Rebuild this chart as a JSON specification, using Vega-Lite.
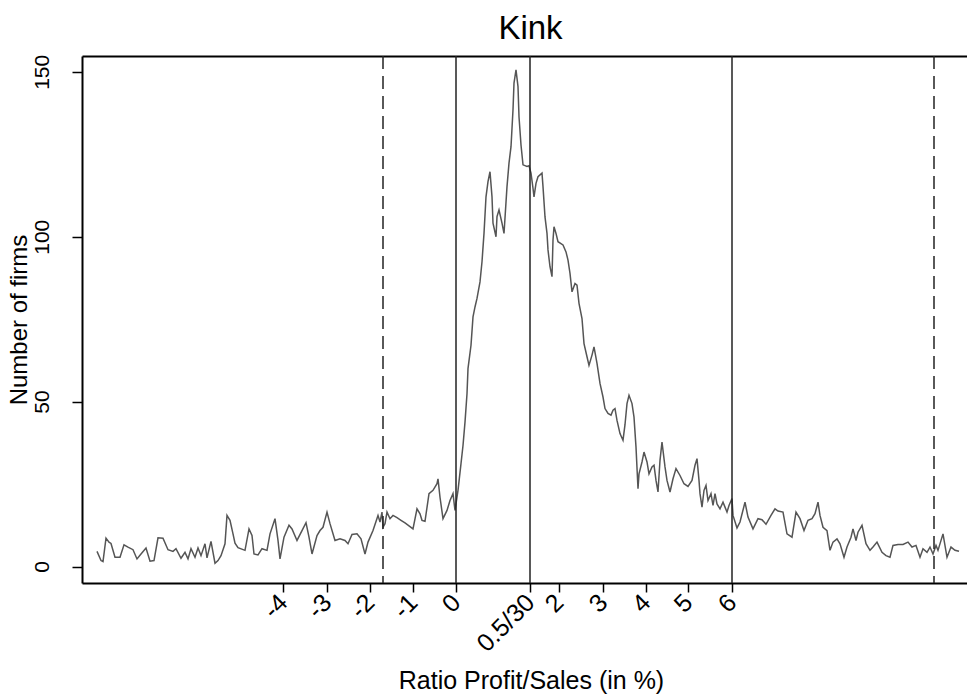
{
  "$schema": "https://vega.github.io/schema/vega-lite/v6.json",
  "autosize": "none",
  "width": 885,
  "height": 527,
  "padding": {"left": 82, "top": 56, "right": 0, "bottom": 112},
  "background": "white",
  "config": {
    "font": "Liberation Sans",
    "view": {"stroke": null},
    "axis": {"grid": false, "domain": true, "domainColor": "#000000", "domainWidth": 2, "tickColor": "#000000", "tickWidth": 1.5, "labelColor": "#000000", "titleColor": "#000000", "labelFont": "Liberation Sans", "titleFont": "Liberation Sans", "titleFontWeight": "normal"}
  },
  "resolve": {"axis": {"x": "independent"}},
  "title": {"text": "Kink", "fontSize": 33, "font": "Liberation Sans", "fontWeight": "normal", "color": "#000000", "offset": 8, "dx": 6},
  "datasets": {
    "counts": [
      {"bin": -359, "firms": 4.6}, {"bin": -355, "firms": 1.8}, {"bin": -353, "firms": 1.5}, {"bin": -350, "firms": 8.6},
      {"bin": -347, "firms": 7.4}, {"bin": -345, "firms": 7.0}, {"bin": -341, "firms": 2.8}, {"bin": -336, "firms": 2.8},
      {"bin": -332, "firms": 6.6}, {"bin": -328, "firms": 5.9}, {"bin": -323, "firms": 5.1}, {"bin": -319, "firms": 2.3},
      {"bin": -315, "firms": 3.8}, {"bin": -310, "firms": 5.6}, {"bin": -306, "firms": 1.6}, {"bin": -302, "firms": 1.8},
      {"bin": -298, "firms": 8.7}, {"bin": -293, "firms": 8.6}, {"bin": -288, "firms": 5.1}, {"bin": -283, "firms": 4.6},
      {"bin": -280, "firms": 5.4}, {"bin": -275, "firms": 2.5}, {"bin": -271, "firms": 4.3}, {"bin": -268, "firms": 2.3},
      {"bin": -265, "firms": 5.4}, {"bin": -261, "firms": 2.8}, {"bin": -258, "firms": 5.6}, {"bin": -255, "firms": 3.3},
      {"bin": -251, "firms": 6.9}, {"bin": -249, "firms": 2.6}, {"bin": -245, "firms": 7.6}, {"bin": -241, "firms": 1.0},
      {"bin": -238, "firms": 1.8}, {"bin": -235, "firms": 3.3}, {"bin": -231, "firms": 6.9}, {"bin": -229, "firms": 15.5},
      {"bin": -226, "firms": 14.0}, {"bin": -223, "firms": 9.9}, {"bin": -221, "firms": 7.1}, {"bin": -218, "firms": 5.7},
      {"bin": -211, "firms": 4.9}, {"bin": -207, "firms": 11.4}, {"bin": -204, "firms": 9.4}, {"bin": -202, "firms": 3.8},
      {"bin": -198, "firms": 3.5}, {"bin": -194, "firms": 5.4}, {"bin": -189, "firms": 4.9}, {"bin": -186, "firms": 9.9},
      {"bin": -181, "firms": 14.5}, {"bin": -178, "firms": 7.9}, {"bin": -176, "firms": 2.3}, {"bin": -172, "firms": 8.9},
      {"bin": -167, "firms": 12.5}, {"bin": -164, "firms": 11.4}, {"bin": -159, "firms": 7.9}, {"bin": -154, "firms": 10.9},
      {"bin": -150, "firms": 13.3}, {"bin": -147, "firms": 8.9}, {"bin": -144, "firms": 3.8}, {"bin": -139, "firms": 9.4},
      {"bin": -136, "firms": 10.9}, {"bin": -133, "firms": 11.9}, {"bin": -129, "firms": 16.5}, {"bin": -126, "firms": 13.0},
      {"bin": -121, "firms": 7.9}, {"bin": -116, "firms": 8.4}, {"bin": -111, "firms": 7.9}, {"bin": -108, "firms": 6.9},
      {"bin": -104, "firms": 9.7}, {"bin": -99, "firms": 9.9}, {"bin": -95, "firms": 8.4}, {"bin": -91, "firms": 3.8},
      {"bin": -88, "firms": 7.4}, {"bin": -83, "firms": 10.9}, {"bin": -78, "firms": 15.5}, {"bin": -76, "firms": 13.5},
      {"bin": -74, "firms": 16.5}, {"bin": -73, "firms": 11.9}, {"bin": -71, "firms": 13.0}, {"bin": -69, "firms": 16.5},
      {"bin": -66, "firms": 14.5}, {"bin": -63, "firms": 15.5}, {"bin": -59, "firms": 14.8}, {"bin": -55, "firms": 14.0},
      {"bin": -51, "firms": 13.2}, {"bin": -46, "firms": 12.1}, {"bin": -43, "firms": 11.4}, {"bin": -39, "firms": 17.5},
      {"bin": -36, "firms": 16.0}, {"bin": -34, "firms": 14.0}, {"bin": -31, "firms": 13.7}, {"bin": -27, "firms": 22.1},
      {"bin": -23, "firms": 23.1}, {"bin": -19, "firms": 25.1}, {"bin": -18, "firms": 26.6}, {"bin": -16, "firms": 21.0},
      {"bin": -13, "firms": 14.5}, {"bin": -9, "firms": 17.0}, {"bin": -6, "firms": 20.0}, {"bin": -3, "firms": 22.1},
      {"bin": -1, "firms": 17.0}, {"bin": 2, "firms": 23.1}, {"bin": 5, "firms": 31.2}, {"bin": 7, "firms": 36.7},
      {"bin": 9, "firms": 43.8}, {"bin": 11, "firms": 52.4}, {"bin": 12, "firms": 60.0}, {"bin": 15, "firms": 67.1},
      {"bin": 17, "firms": 75.7}, {"bin": 19, "firms": 78.7}, {"bin": 21, "firms": 81.3}, {"bin": 24, "firms": 86.3},
      {"bin": 26, "firms": 92.4}, {"bin": 28, "firms": 101.0}, {"bin": 30, "firms": 112.1}, {"bin": 32, "firms": 116.7},
      {"bin": 34, "firms": 119.7}, {"bin": 36, "firms": 112.1}, {"bin": 37, "firms": 104.1}, {"bin": 40, "firms": 100.0},
      {"bin": 41, "firms": 106.1}, {"bin": 43, "firms": 108.1}, {"bin": 46, "firms": 104.1}, {"bin": 48, "firms": 101.0},
      {"bin": 51, "firms": 115.2}, {"bin": 53, "firms": 122.3}, {"bin": 55, "firms": 127.3}, {"bin": 57, "firms": 138.5},
      {"bin": 58, "firms": 146.6}, {"bin": 60, "firms": 150.6}, {"bin": 62, "firms": 145.5}, {"bin": 63, "firms": 136.4},
      {"bin": 65, "firms": 127.8}, {"bin": 67, "firms": 121.8}, {"bin": 71, "firms": 121.3}, {"bin": 73, "firms": 121.5},
      {"bin": 75, "firms": 119.3}, {"bin": 77, "firms": 114.7}, {"bin": 78, "firms": 112.1}, {"bin": 80, "firms": 116.2},
      {"bin": 82, "firms": 118.2}, {"bin": 86, "firms": 119.3}, {"bin": 87, "firms": 115.2}, {"bin": 89, "firms": 106.0},
      {"bin": 91, "firms": 101.0}, {"bin": 92, "firms": 96.0}, {"bin": 94, "firms": 90.9}, {"bin": 96, "firms": 87.9},
      {"bin": 97, "firms": 99.0}, {"bin": 98, "firms": 103.0}, {"bin": 100, "firms": 101.0}, {"bin": 102, "firms": 98.5},
      {"bin": 107, "firms": 97.5}, {"bin": 110, "firms": 95.4}, {"bin": 112, "firms": 92.9}, {"bin": 114, "firms": 88.9},
      {"bin": 116, "firms": 83.3}, {"bin": 119, "firms": 85.8}, {"bin": 121, "firms": 85.3}, {"bin": 123, "firms": 79.8},
      {"bin": 126, "firms": 75.2}, {"bin": 128, "firms": 67.6}, {"bin": 131, "firms": 63.6}, {"bin": 133, "firms": 61.0},
      {"bin": 136, "firms": 64.1}, {"bin": 138, "firms": 66.6}, {"bin": 141, "firms": 61.6}, {"bin": 144, "firms": 55.5},
      {"bin": 147, "firms": 51.4}, {"bin": 149, "firms": 47.9}, {"bin": 152, "firms": 46.4}, {"bin": 155, "firms": 45.9},
      {"bin": 157, "firms": 47.4}, {"bin": 159, "firms": 47.9}, {"bin": 161, "firms": 44.3}, {"bin": 164, "firms": 40.3},
      {"bin": 167, "firms": 38.3}, {"bin": 169, "firms": 43.0}, {"bin": 171, "firms": 49.4}, {"bin": 173, "firms": 51.9},
      {"bin": 176, "firms": 49.4}, {"bin": 178, "firms": 45.3}, {"bin": 180, "firms": 36.2}, {"bin": 182, "firms": 23.6},
      {"bin": 183, "firms": 28.1}, {"bin": 186, "firms": 31.7}, {"bin": 188, "firms": 34.7}, {"bin": 191, "firms": 31.7},
      {"bin": 193, "firms": 28.1}, {"bin": 196, "firms": 30.2}, {"bin": 198, "firms": 30.7}, {"bin": 200, "firms": 26.1},
      {"bin": 202, "firms": 22.6}, {"bin": 204, "firms": 32.2}, {"bin": 206, "firms": 37.7}, {"bin": 207, "firms": 35.2},
      {"bin": 209, "firms": 30.2}, {"bin": 211, "firms": 26.1}, {"bin": 214, "firms": 22.6}, {"bin": 217, "firms": 26.6},
      {"bin": 220, "firms": 29.7}, {"bin": 224, "firms": 27.6}, {"bin": 228, "firms": 25.1}, {"bin": 232, "firms": 24.3},
      {"bin": 236, "firms": 26.1}, {"bin": 239, "firms": 30.7}, {"bin": 241, "firms": 32.7}, {"bin": 243, "firms": 26.1},
      {"bin": 244, "firms": 22.1}, {"bin": 246, "firms": 18.0}, {"bin": 248, "firms": 23.1}, {"bin": 250, "firms": 24.6},
      {"bin": 252, "firms": 20.0}, {"bin": 255, "firms": 22.1}, {"bin": 257, "firms": 18.5}, {"bin": 259, "firms": 22.1},
      {"bin": 261, "firms": 19.0}, {"bin": 264, "firms": 17.5}, {"bin": 267, "firms": 19.5}, {"bin": 269, "firms": 18.0},
      {"bin": 271, "firms": 16.5}, {"bin": 273, "firms": 18.5}, {"bin": 276, "firms": 20.6}, {"bin": 277, "firms": 15.5},
      {"bin": 281, "firms": 11.7}, {"bin": 284, "firms": 13.5}, {"bin": 289, "firms": 19.5}, {"bin": 292, "firms": 15.0},
      {"bin": 297, "firms": 11.4}, {"bin": 302, "firms": 14.5}, {"bin": 306, "firms": 14.2}, {"bin": 310, "firms": 12.8},
      {"bin": 315, "firms": 15.5}, {"bin": 319, "firms": 17.5}, {"bin": 322, "firms": 16.8}, {"bin": 327, "firms": 16.5},
      {"bin": 331, "firms": 9.9}, {"bin": 336, "firms": 8.9}, {"bin": 340, "firms": 16.5}, {"bin": 344, "firms": 14.5},
      {"bin": 348, "firms": 10.9}, {"bin": 352, "firms": 14.0}, {"bin": 356, "firms": 14.5}, {"bin": 359, "firms": 16.0},
      {"bin": 362, "firms": 19.5}, {"bin": 364, "firms": 15.5}, {"bin": 367, "firms": 11.9}, {"bin": 371, "firms": 10.9},
      {"bin": 374, "firms": 4.9}, {"bin": 377, "firms": 7.4}, {"bin": 381, "firms": 8.4}, {"bin": 384, "firms": 6.9},
      {"bin": 388, "firms": 2.8}, {"bin": 391, "firms": 5.9}, {"bin": 395, "firms": 8.9}, {"bin": 397, "firms": 11.4},
      {"bin": 400, "firms": 7.9}, {"bin": 402, "firms": 10.4}, {"bin": 406, "firms": 12.5}, {"bin": 410, "firms": 6.9},
      {"bin": 414, "firms": 4.9}, {"bin": 417, "firms": 5.9}, {"bin": 421, "firms": 7.4}, {"bin": 426, "firms": 4.3},
      {"bin": 430, "firms": 3.3}, {"bin": 434, "firms": 2.8}, {"bin": 437, "firms": 6.4}, {"bin": 442, "firms": 6.7},
      {"bin": 447, "firms": 6.7}, {"bin": 452, "firms": 7.4}, {"bin": 456, "firms": 5.9}, {"bin": 460, "firms": 6.4},
      {"bin": 464, "firms": 2.8}, {"bin": 467, "firms": 5.4}, {"bin": 471, "firms": 4.3}, {"bin": 474, "firms": 5.9},
      {"bin": 477, "firms": 3.8}, {"bin": 480, "firms": 6.4}, {"bin": 482, "firms": 4.9}, {"bin": 487, "firms": 9.9},
      {"bin": 491, "firms": 2.8}, {"bin": 495, "firms": 5.9}, {"bin": 499, "firms": 4.9}, {"bin": 503, "firms": 4.6}
    ],
    "kinks": [{"bin": 0}, {"bin": 74}, {"bin": 276}],
    "bounds": [{"bin": -73}, {"bin": 478}]
  },
  "layer": [
    {
      "data": {"name": "counts"},
      "mark": {"type": "line", "color": "#555555", "strokeWidth": 1.5, "interpolate": "linear"},
      "encoding": {
        "x": {
          "field": "bin", "type": "quantitative",
          "scale": {"domain": [-374, 511], "nice": false, "zero": false},
          "axis": {
            "title": "Ratio Profit/Sales (in %)",
            "titleFontSize": 25, "titleX": 449, "titleY": 105, "titleAlign": "center", "titleBaseline": "alphabetic",
            "values": [-173, -129, -86, -43, 0, 74, 103, 147, 190, 232, 276],
            "labelExpr": "['-4','-3','-2','-1','0','0.5/30','2','3','4','5','6'][indexof([-173,-129,-86,-43,0,74,103,147,190,232,276], datum.value)]",
            "labelAngle": -45, "labelAlign": "right", "labelBaseline": "middle",
            "labelFontSize": 25, "labelPadding": 6, "tickSize": 9, "labelOverlap": false, "labelBound": false, "labelFlush": false
          }
        },
        "y": {
          "field": "firms", "type": "quantitative",
          "scale": {"domain": [-5.0, 154.8], "nice": false, "zero": false},
          "axis": {
            "title": "Number of firms",
            "titleFontSize": 24, "titleAngle": -90, "titleX": -56, "titleY": 263.5, "titleAlign": "center", "titleBaseline": "alphabetic",
            "values": [0, 50, 100, 150],
            "labelAngle": -90, "labelAlign": "center", "labelBaseline": "bottom",
            "labelFontSize": 21, "labelPadding": 20, "tickSize": 10, "labelFlush": false
          }
        }
      }
    },
    {
      "data": {"name": "kinks"},
      "mark": {"type": "rule", "color": "#222222", "strokeWidth": 1.5},
      "encoding": {
        "x": {
          "field": "bin", "type": "quantitative",
          "axis": {"orient": "top", "labels": false, "ticks": false, "title": null, "domain": true, "domainWidth": 2, "domainColor": "#000000"}
        }
      }
    },
    {
      "data": {"name": "bounds"},
      "mark": {"type": "rule", "color": "#222222", "strokeWidth": 1.5, "strokeDash": [13, 7]},
      "encoding": {"x": {"field": "bin", "type": "quantitative", "axis": null}}
    }
  ]
}
